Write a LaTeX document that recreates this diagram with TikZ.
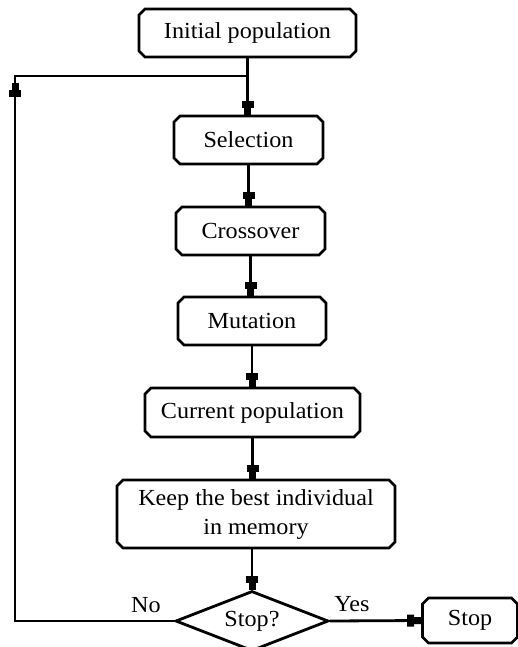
\documentclass[tikz,border=0pt]{standalone}
\usepackage{fontspec}
\setmainfont{Liberation Serif}[FakeStretch=1.05]
\usetikzlibrary{shapes.misc,shapes.geometric,arrows.meta}
\tikzset{
  x=1pt, y=-1pt,
  line/.style={line width=2.8pt},
  arr/.style={line width=2.8pt, -{Rectangle[length=7pt,width=12pt] Rectangle[length=7pt,width=7pt]}},
  box/.style={draw, line width=2.8pt, chamfered rectangle, chamfered rectangle xsep=3pt, chamfered rectangle ysep=3pt,
    inner sep=0pt, align=center, font=\fontsize{23}{29}\selectfont},
  lbl/.style={font=\fontsize{23}{29}\selectfont, inner sep=0pt}
}
\begin{document}
\begin{tikzpicture}
\useasboundingbox (0,0) rectangle (518,647);
\node[box, minimum width=217pt, minimum height=48pt] (init) at (247.5,33) {Initial population};
\node[box, minimum width=149pt, minimum height=48pt] (sel) at (248.5,140) {Selection};
\node[box, minimum width=149pt, minimum height=48pt] (cross) at (250.5,231) {Crossover};
\node[box, minimum width=148pt, minimum height=48pt] (mut) at (252,321) {Mutation};
\node[box, minimum width=215pt, minimum height=49pt] (cur) at (252.5,412.5) {Current population};
\node[box, minimum width=278pt, minimum height=68pt] (keep) at (256,514) {Keep the best individual\\in memory};
\node[draw, line width=2.8pt, diamond, aspect=2.55, inner sep=0pt, minimum width=153pt, minimum height=60pt] (dec) at (252,621) {};
\node[lbl] (dect) at (252,621) {Stop?};
\node[box, minimum width=95pt, minimum height=45pt] (stop) at (470,620.5) {Stop};
\node[lbl] (no) at (146,605) {No};
\node[lbl] (yes) at (352,604) {Yes};
\coordinate (junc) at (init.south |- 0,76);
\coordinate (tl) at (15,76);
\coordinate (bl) at (15,621);
\coordinate (up) at (15,83);
\draw[line] (init.south) -- (junc) -- (tl) -- (up);
\draw[arr] (junc) -- (junc |- sel.north);
\draw[arr] (sel.south) -- (sel.south |- cross.north);
\draw[arr] (cross.south) -- (cross.south |- mut.north);
\draw[arr] (mut.south) -- (mut.south |- cur.north);
\draw[arr] (cur.south) -- (cur.south |- keep.north);
\draw[arr] (keep.south -| dec.north) -- (dec.north);
\draw[arr] (dec.west) -- (bl) -- (up);
\draw[arr] (dec.east) -- (stop.west);
\end{tikzpicture}
\end{document}
